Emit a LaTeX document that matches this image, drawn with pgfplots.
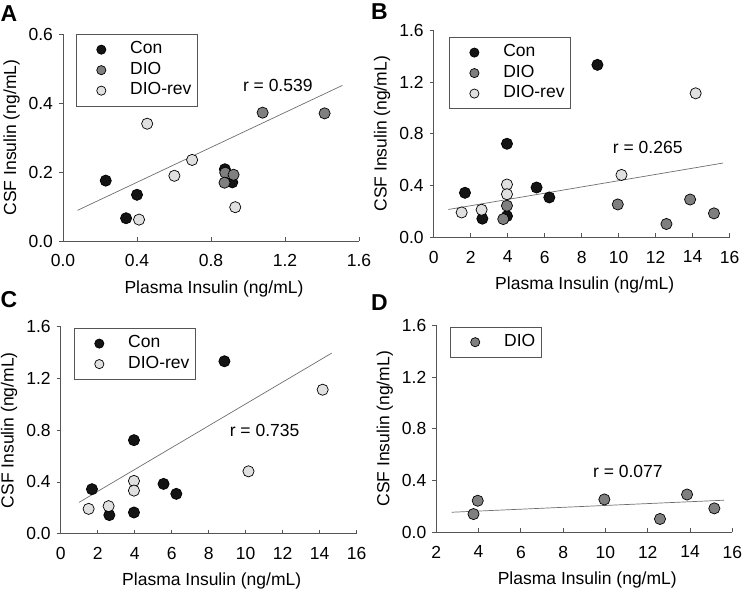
\documentclass[border=0pt]{standalone}
\usepackage{fontspec}
\setmainfont{Liberation Sans}
\usepackage{pgfplots}
\pgfplotsset{compat=1.18}
\definecolor{conc}{HTML}{141414}
\definecolor{dioc}{HTML}{7F7F7F}
\definecolor{revc}{HTML}{E0E0E0}
\definecolor{axc}{HTML}{555555}
\definecolor{fitc}{HTML}{6E6E6E}
\pgfplotsset{
  panel/.style={
    scale only axis, anchor=south west,
    width=296bp, height=207bp,
    axis lines=left,
    axis line style={-, draw=axc, line width=0.8bp},
    every tick/.style={draw=axc, line width=0.8bp},
    xtick align=inside, ytick align=outside,
    major tick length=4bp,
    font=\fontsize{17.5bp}{21bp}\selectfont,
    /pgf/number format/assume math mode=true,
    xticklabel style={yshift=-10bp},
    yticklabel style={xshift=-2.5bp},
    xlabel={Plasma Insulin (ng/mL)},
    ylabel={CSF Insulin (ng/mL)},
    xlabel style={at={(axis description cs:0.5,0)}, anchor=north, yshift=-36bp, xshift=3bp},
    ylabel style={at={(axis description cs:-0.174,0.5)}, anchor=center},
    clip=false,
    legend style={draw=axc, line width=0.8bp, inner xsep=4bp, inner ysep=5bp, row sep=0bp,
      nodes={inner sep=2bp, text height=12.5bp, text depth=4bp, anchor=west}, anchor=north west},
    legend cell align=left,
    legend image code/.code={\draw[##1, mark size=4.6bp] plot coordinates {(20.5bp,0bp)}; \path (0bp,0bp) (47bp,0bp);},
  },
  con/.style={only marks, mark=*, mark size=5.6bp, mark options={fill=conc, draw=black, line width=0.7bp}},
  dio/.style={only marks, mark=*, mark size=5.6bp, mark options={fill=dioc, draw=black, line width=0.7bp}},
  rev/.style={only marks, mark=*, mark size=5.6bp, mark options={fill=revc, draw=black, line width=0.7bp}},
  fit/.style={no marks, draw=fitc, line width=0.7bp, forget plot},
}
\begin{document}
\begin{tikzpicture}[font=\fontsize{17.5bp}{21bp}\selectfont]
\useasboundingbox (0bp,0bp) rectangle (742bp,-593bp);
% Panel A
\begin{axis}[panel, at={(63bp,-241bp)},
  xmin=0, xmax=1.6, ymin=0, ymax=0.6,
  xtick={0,0.4,0.8,1.2,1.6}, ytick={0,0.2,0.4,0.6},
  xticklabel style={/pgf/number format/.cd, fixed, fixed zerofill, precision=1},
  yticklabel style={/pgf/number format/.cd, fixed, fixed zerofill, precision=1},
  legend style={at={(0.044,1)}}]
\addplot[fit] coordinates {(0.079,0.089) (1.510,0.451)};
\addplot[con] coordinates {(0.231,0.175) (0.400,0.134) (0.341,0.066) (0.875,0.208) (0.915,0.170)};
\addplot[dio] coordinates {(1.079,0.372) (1.414,0.370) (0.877,0.198) (0.922,0.192) (0.873,0.169)};
\addplot[rev] coordinates {(0.455,0.340) (0.698,0.235) (0.602,0.189) (0.411,0.062) (0.931,0.098)};
\legend{Con, DIO, DIO-rev}
\node at (axis cs:1.161,0.452) {r = 0.539};
\end{axis}
% Panel B
\begin{axis}[panel, at={(433.7bp,-237.3bp)},
  xmin=0, xmax=16, ymin=0, ymax=1.6,
  xtick={0,2,4,6,8,10,12,14,16}, ytick={0,0.4,0.8,1.2,1.6},
  yticklabel style={/pgf/number format/.cd, fixed, fixed zerofill, precision=1},
  legend style={at={(0.052,0.968)}}]
\addplot[fit] coordinates {(0.79,0.215) (15.64,0.574)};
\addplot[con] coordinates {(1.69,0.344) (8.85,1.333) (3.96,0.723) (5.56,0.385) (6.25,0.308) (2.63,0.144) (3.96,0.164)};
\addplot[dio] coordinates {(3.76,0.141) (3.96,0.244) (9.95,0.254) (12.58,0.103) (13.86,0.292) (15.15,0.185)};
\addplot[rev] coordinates {(1.51,0.192) (2.59,0.213) (3.96,0.408) (3.96,0.333) (10.15,0.482) (14.16,1.113)};
\legend{Con, DIO, DIO-rev}
\node at (axis cs:11.57,0.695) {r = 0.265};
\end{axis}
% Panel C
\begin{axis}[panel, at={(60.7bp,-533.7bp)},
  xmin=0, xmax=16, ymin=0, ymax=1.6,
  xtick={0,2,4,6,8,10,12,14,16}, ytick={0,0.4,0.8,1.2,1.6},
  yticklabel style={/pgf/number format/.cd, fixed, fixed zerofill, precision=1},
  legend style={at={(0.045,0.994)}}]
\addplot[fit] coordinates {(0.99,0.242) (14.65,1.396)};
\addplot[con] coordinates {(1.69,0.344) (8.85,1.333) (3.96,0.723) (5.56,0.385) (6.25,0.308) (2.63,0.144) (3.96,0.164)};
\addplot[rev] coordinates {(1.51,0.192) (2.59,0.213) (3.96,0.408) (3.96,0.333) (10.15,0.482) (14.16,1.113)};
\legend{Con, DIO-rev}
\node at (axis cs:11.02,0.80) {r = 0.735};
\end{axis}
% Panel D
\begin{axis}[panel, at={(436.3bp,-532.3bp)},
  xmin=2, xmax=16, ymin=0, ymax=1.6,
  xtick={2,4,6,8,10,12,14,16}, ytick={0,0.4,0.8,1.2,1.6},
  yticklabel style={/pgf/number format/.cd, fixed, fixed zerofill, precision=1},
  legend style={at={(0.046,0.994)}}]
\addplot[fit] coordinates {(2.72,0.155) (15.6,0.248)};
\addplot[dio] coordinates {(3.76,0.141) (3.96,0.244) (9.95,0.254) (12.58,0.103) (13.86,0.292) (15.15,0.185)};
\legend{DIO}
\node at (axis cs:11.06,0.467) {r = 0.077};
\end{axis}
% Panel letters
\node[anchor=base west, inner sep=0pt, font=\fontsize{23bp}{23bp}\selectfont\bfseries] at (0.5bp,-21.5bp) {A};
\node[anchor=base west, inner sep=0pt, font=\fontsize{23bp}{23bp}\selectfont\bfseries] at (371bp,-19.5bp) {B};
\node[anchor=base west, inner sep=0pt, font=\fontsize{23bp}{23bp}\selectfont\bfseries] at (0.5bp,-307bp) {C};
\node[anchor=base west, inner sep=0pt, font=\fontsize{23bp}{23bp}\selectfont\bfseries] at (371bp,-310bp) {D};
\end{tikzpicture}
\end{document}
